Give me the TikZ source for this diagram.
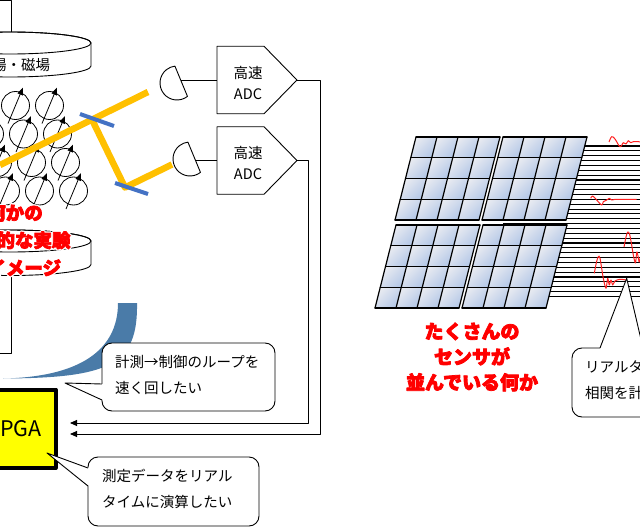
\documentclass[tikz,border=0pt]{standalone}
\usepackage{fontspec}
\newfontfamily\jp{Noto Sans CJK JP}
\newfontfamily\jpheavy{Noto Sans CJK JP}[BoldFeatures={FakeBold=4}]
\newfontfamily\jphalo{Noto Sans CJK JP}[BoldFeatures={FakeBold=18}]
\usetikzlibrary{arrows.meta,calc}
\definecolor{beamc}{HTML}{FFC000}
\definecolor{mirrorc}{HTML}{4472C4}
\definecolor{arcc}{HTML}{4A7BA8}
\definecolor{cellA}{HTML}{E9EBF1}
\definecolor{cellB}{HTML}{B3C7E7}
\definecolor{wavec}{HTML}{FF2020}
\definecolor{redtext}{HTML}{FF0000}
\definecolor{fpgac}{HTML}{FFFF00}
\tikzset{
  ln/.style={line width=0.9pt, draw=black},
  txt/.style={inner sep=0pt, font=\jp\fontsize{14.5}{26}\selectfont},
  adctxt/.style={inner sep=0pt, align=center, font=\jp\fontsize{14.5}{21}\selectfont},
  redleft/.style={inner sep=0pt, align=center, text=redtext, font=\jpheavy\bfseries\fontsize{18.5}{27.5}\selectfont},
  haloleft/.style={inner sep=0pt, align=center, text=white, font=\jphalo\bfseries\fontsize{18.5}{27.5}\selectfont},
  redright/.style={inner sep=0pt, align=center, text=redtext, font=\jpheavy\bfseries\fontsize{19}{25.5}\selectfont},
  spin/.style={line width=0.8pt},
  spinarrow/.style={line width=0.8pt, -{Triangle[length=7.5pt,width=5.5pt]}},
  beam/.style={line width=6.5pt, draw=beamc},
  mirror/.style={line width=4pt, draw=mirrorc},
  adcbox/.style={minimum width=80pt, minimum height=67.5pt, inner sep=0pt, outer sep=0pt},
  fpgabox/.style={draw, line width=4pt, fill=fpgac, minimum width=81pt, minimum height=78.5pt, inner sep=0pt, font=\jp\fontsize{21.5}{26}\selectfont},
  callbox/.style={draw, line width=0.9pt, fill=white, rounded corners=10pt, inner sep=0pt},
  cellshade/.style={top color=cellA, bottom color=cellB, shading angle=45},
  panelline/.style={line width=1.2pt, line cap=round},
  wire/.style={line width=1.1pt},
  wavel/.style={line width=1pt, draw=wavec},
  sigarrow/.style={ln, -{Triangle[length=7pt,width=6pt]}}
}
\begin{document}
\begin{tikzpicture}[x=1pt,y=-1pt,line join=round]
\useasboundingbox (0,0) rectangle (640,527);
\fill[white] (0,0) rectangle (640,527);
\clip (0,0) rectangle (640,527);

% ---------- magnet yoke
\draw[ln] (0,0.8) -- (11.5,0.8) -- (11.5,32.3);
\draw[ln] (11.5,275.5) -- (11.5,353) -- (0,353);

% ---------- top cylinder
\draw[ln,fill=white] (-71,43) -- (-71,66) arc[start angle=180,end angle=0,x radius=81,y radius=11] -- (91,43) arc[start angle=0,end angle=-180,x radius=81,y radius=11] -- cycle;
\draw[ln] (10,43) ellipse[x radius=81,y radius=11];
\node[txt] (field) at (14,65.5) {電場・磁場};

% ---------- bottom cylinder
\draw[ln,fill=white] (-71,241) -- (-71,264.5) arc[start angle=180,end angle=0,x radius=81,y radius=11] -- (91,241) arc[start angle=0,end angle=-180,x radius=81,y radius=11] -- cycle;
\draw[ln] (10,241) ellipse[x radius=81,y radius=11];

% ---------- spins
\foreach \r in {0,...,3}{
  \foreach \k in {-1,0,1}{
    \pgfmathsetmacro\scx{15.5+8*\r+34*\k}
    \pgfmathsetmacro\scy{105.5+28.5*\r}
    \draw[spin] (\scx,\scy) circle[radius=14];
    \draw[spinarrow] ({\scx-7.5},{\scy+18}) -- ({\scx+7.5},{\scy-18});
  }}

% ---------- laser beam and mirrors
\draw[beam] (0,165) -- (148,92);
\draw[beam] (92,119.6) -- (125,187.5) -- (172,164.5);
\draw[mirror] (80,114) -- (114,126);
\draw[mirror] (115,183) -- (148,194);

% ---------- detectors
\draw[ln,fill=white] (177,83) ++(52:17) arc[start angle=52,end angle=263,radius=17] -- cycle;
\draw[ln,fill=white] (190,159) ++(52:17) arc[start angle=52,end angle=263,radius=17] -- cycle;
\coordinate (det1) at (181,80);
\coordinate (det2) at (195.5,160.5);

% ---------- ADC boxes
\node[adcbox] (adc1) at (257,80) {};
\node[adcbox] (adc2) at (257,160.5) {};
\foreach \n in {adc1,adc2}{
  \draw[ln] (\n.north west) -- ($(\n.north east)+(-33,0)$) -- (\n.east) -- ($(\n.south east)+(-33,0)$) -- (\n.south west) -- cycle;
}
\node[adctxt] (adc1t) at (248,82.5) {高速\\ADC};
\node[adctxt] (adc2t) at (248,163) {高速\\ADC};

% ---------- connectors
\coordinate (in1) at (70,423);
\coordinate (in2) at (70,434);
\draw[ln] (det1) -- (adc1.west);
\draw[ln] (det2) -- (adc2.west);
\draw[sigarrow] (adc1.east) -- ++(23,0) |- (in2);
\draw[sigarrow] (adc2.east) -- ++(11.5,0) |- (in1);

% ---------- blue crescent
\fill[arcc] (118,303) -- (137,303) .. controls (138,365) and (110,378) .. (3,378.5) .. controls (80,377) and (118,350) .. (118,303) -- cycle;

% ---------- FPGA
\node[fpgabox] (fpga) at (15,428.75) {FPGA};

% ---------- callout 1
\node[callbox, minimum width=173pt, minimum height=68pt] (call1) at (188.5,377) {};
\fill[white] (103,384) -- (65,383) -- (103,400) -- cycle;
\draw[ln] (102,384) -- (65,383) -- (102,400);
\node[txt,anchor=west] (c1a) at (115,362) {計測→制御のループを};
\node[txt,anchor=west] (c1b) at (115,388) {速く回したい};

% ---------- callout 2
\node[callbox, minimum width=171pt, minimum height=69pt] (call2) at (173.5,491.5) {};
\fill[white] (89,468) -- (47,453) -- (89,486) -- cycle;
\draw[ln] (88,468) -- (47,453) -- (88,486);
\node[txt,anchor=west] (c2a) at (102,476) {測定データをリアル};
\node[txt,anchor=west] (c2b) at (102,502) {タイムに演算したい};

% ---------- red label left (white outline behind)
\node[haloleft] (expthalo) at (15,240) {何かの\\物理的な実験\\のイメージ};
\node[redleft] (expt) at (15,240) {何かの\\物理的な実験\\のイメージ};

% ---------- wires
\foreach \k in {0,...,31}{
  \draw[wire] (503,{146+4.85*\k}) -- (640,{146+4.85*\k});
}

% ---------- sensor panels
\foreach \px/\py in {416/137,503/137,396/225,483/225}{
  \foreach \i in {0,...,3}{\foreach \j in {0,...,3}{
    \shade[cellshade] ({\px+21*\i-5.25*\j},{\py+20.75*\j}) -- ++(21,0) -- ++(-5.25,20.75) -- ++(-21,0) -- cycle;
  }}
  \foreach \k in {0,...,4}{
    \draw[panelline] ({\px-5.25*\k},{\py+20.75*\k}) -- ++(84,0);
    \draw[panelline] ({\px+21*\k},\py) -- ++(-21,83);
  }
}

% ---------- signal waves
\draw[wavel] plot[smooth,tension=0.6] coordinates {(609,142) (611.7,136.7) (615,139) (620,146.7) (623.3,142.7) (626,144) (628.3,140.7) (630.7,142.7) (633.3,141.7) (636,141.5) (641,142)};
\draw[wavel] plot[smooth,tension=0.6] coordinates {(590.7,198.3) (592.7,196) (596.7,200) (601.7,205) (603.3,201.7) (606.7,200) (609.3,198.3) (611.7,200) (615,199.3)} -- (636.7,199.3);
\draw[wavel] plot[smooth,tension=0.5] coordinates {(624,247) (626,237) (627.7,232) (629.5,234) (631.5,244) (633.5,256) (635.5,263) (636.7,252) (638,256) (639.3,262) (641,254)};
\draw[wavel] plot[smooth,tension=0.5] coordinates {(594.3,273.3) (596.5,262) (598.3,256.7) (600,258.3) (603.3,278.3) (606,288.3) (607.7,278.3) (609.3,285) (611,280) (612.7,285) (615,281) (620,279.3) (626,280)};

% ---------- red label right
\node[redright] (sensors) at (472,357) {たくさんの\\センサが\\並んでいる何か};

% ---------- callout 3
\node[callbox, minimum width=148pt, minimum height=69pt] (call3) at (646,382.5) {};
\fill[white] (600,349) -- (626.7,278.3) -- (643,349) -- cycle;
\draw[ln] (600,348) -- (626.7,278.3) -- (643,348);
\node[txt,anchor=west] (c3a) at (585,367) {リアルタ};
\node[txt,anchor=west] (c3b) at (585,393) {相関を計};
\end{tikzpicture}
\end{document}
